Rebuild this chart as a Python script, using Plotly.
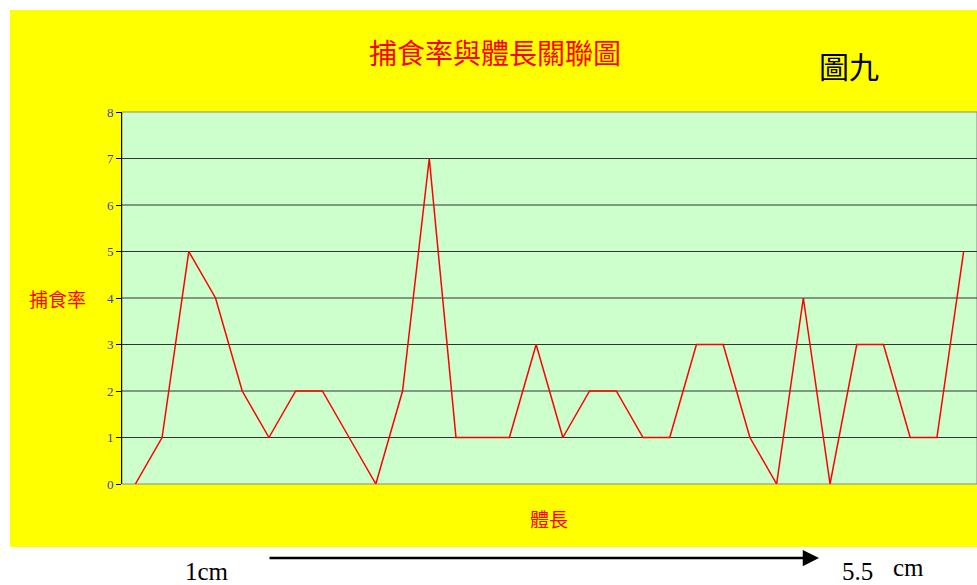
import plotly.graph_objects as go

# Data (32 samples, body length increasing from 1cm to 5.5cm)
sample_index = list(range(32))
capture_rate = [0, 1, 5, 4, 2, 1, 2, 2, 1, 0, 2, 7, 1, 1, 1, 3,
                1, 2, 2, 1, 1, 3, 3, 1, 0, 4, 0, 3, 3, 1, 1, 5]
y_ticks = [0, 1, 2, 3, 4, 5, 6, 7, 8]
grid_values = [1, 2, 3, 4, 5, 6, 7]

W, H = 977, 585
L, R, T, B = 122, 0, 112, 101
PW, PH = W - L - R, H - T - B

def px(x):
    return (x - L) / PW

def py(y):
    return (H - B - y) / PH

fig = go.Figure()
fig.add_trace(go.Scatter(
    x=sample_index, y=capture_rate, mode="lines",
    line=dict(color="#FF0000", width=1.5, simplify=False),
    hoverinfo="skip", showlegend=False))

shapes = [
    dict(type="rect", xref="paper", yref="paper", x0=px(10), x1=px(977),
         y0=py(547), y1=py(10), fillcolor="#FFFF00", line=dict(width=0), layer="below"),
    dict(type="rect", xref="paper", yref="paper", x0=0, x1=1, y0=0, y1=1,
         fillcolor="#CCFFCC", line=dict(width=1, color="#888888"), layer="below"),
]
for g in grid_values:
    shapes.append(dict(type="line", xref="paper", yref="y", x0=0, x1=1, y0=g, y1=g,
                       line=dict(color="#333333", width=1), layer="below"))

def label(text, x, y, family, size, color):
    return dict(text=text, xref="paper", yref="paper", x=px(x), y=py(y),
                xanchor="center", yanchor="middle", showarrow=False,
                font=dict(family=family, size=size, color=color))

annotations = [
    label("捕食率與體長關聯圖", 495, 52, "Noto Sans CJK TC", 28, "#FF0000"),
    label("圖九", 849, 65, "Noto Sans CJK TC", 30, "#000000"),
    label("捕食率", 57, 298, "Noto Sans CJK TC", 19, "#FF0000"),
    label("體長", 549, 518, "Noto Sans CJK TC", 19, "#FF0000"),
    label("1cm", 207, 571, "Liberation Serif", 25, "#000000"),
    label("5.5", 857, 571, "Liberation Serif", 25, "#000000"),
    label("cm", 908, 567, "Liberation Serif", 25, "#000000"),
    dict(text="", xref="paper", yref="paper", axref="pixel", ayref="pixel",
         x=px(819), y=py(558), ax=-(819 - 268), ay=0, showarrow=True,
         arrowhead=2, arrowsize=1.3, arrowwidth=2.5, arrowcolor="#000000", standoff=0),
]

fig.update_layout(
    width=W, height=H, margin=dict(l=L, r=R, t=T, b=B),
    paper_bgcolor="#FFFFFF", plot_bgcolor="#CCFFCC",
    shapes=shapes, annotations=annotations, showlegend=False,
    xaxis=dict(range=[-0.5, 31.5], showticklabels=False, showgrid=False,
               zeroline=False, showline=False, ticks=""),
    yaxis=dict(range=[0, 8], tickvals=y_ticks, showgrid=False,
               zeroline=False, showline=True, linecolor="#000000",
               linewidth=1, ticks="outside", ticklen=5, tickcolor="#000000",
               layer="below traces",
               tickfont=dict(family="Liberation Serif", size=13, color="#4040B0")),
)

fig.write_html("out.html", config={"displayModeBar": False},
               post_script="document.body.style.margin='0';")
